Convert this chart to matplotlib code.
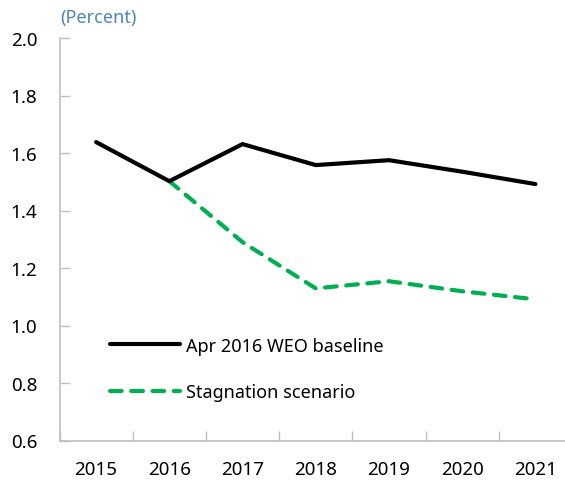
import matplotlib.pyplot as plt
import numpy as np

plt.rcParams['font.family'] = ['Noto Sans', 'DejaVu Sans']

years = ['2015', '2016', '2017', '2018', '2019', '2020', '2021']
baseline = [1.638, 1.502, 1.631, 1.558, 1.575, 1.535, 1.492]
stag_years = ['2016', '2017', '2018', '2019', '2020', '2021']
stagnation = [1.502, 1.29, 1.129, 1.154, 1.119, 1.091]

grey = '#BFBFBF'
green = '#00B050'

fig = plt.figure(figsize=(5.65, 4.81), dpi=100)
W, H = 565, 481
ax = fig.add_axes([59.5 / W, 1 - 441.5 / H, 512.5 / W, (441.5 - 39) / H])

x = np.arange(len(years))
xs = np.array([years.index(y) for y in stag_years])
ax.plot(x, baseline, color='black', lw=3, solid_capstyle='round',
        label='Apr 2016 WEO baseline', zorder=3)
ax.plot(xs, stagnation, color=green, lw=3, dashes=(2.8, 2.3), dash_capstyle='round',
        label='Stagnation scenario', zorder=2)

ax.set_xlim(-0.5, len(years) - 0.5)
ax.set_ylim(0.6, 2.0)
ax.set_yticks(np.arange(0.6, 2.01, 0.2))
ax.set_yticklabels([f'{v:.1f}' for v in np.arange(0.6, 2.01, 0.2)])
ax.set_xticks(np.arange(-0.5, len(years), 1.0))
ax.set_xticklabels([])
ax.set_xticks(x, minor=True)
ax.set_xticklabels(years, minor=True)

for s in ['top', 'right']:
    ax.spines[s].set_visible(False)
for s in ['left', 'bottom']:
    ax.spines[s].set_color(grey)
    ax.spines[s].set_linewidth(1.2)

ax.tick_params(axis='y', direction='in', length=7, color=grey, width=1,
               labelsize=13.5, pad=16)
ax.tick_params(axis='x', which='major', direction='in', length=7, color=grey, width=1)
ax.tick_params(axis='x', which='minor', length=0, labelsize=13.5, pad=14)

ax.legend(loc='center left', bbox_to_anchor=(50 / 512.5, 1 - (370 - 39) / 402.5),
          frameon=False, fontsize=13, handlelength=3.9, handletextpad=0.35,
          labelspacing=1.6, borderaxespad=0, borderpad=0)

fig.text(60 / W, 1 - 18 / H, '(Percent)', color='#4A86B8', fontsize=13,
         ha='left', va='center')

fig.savefig('out.png', dpi=100)
